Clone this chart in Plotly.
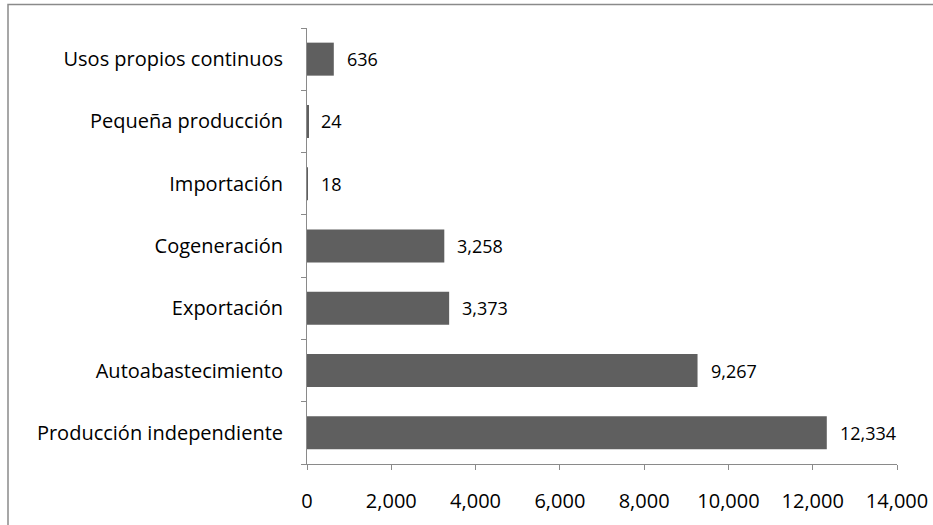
import plotly.graph_objects as go

# Capacity by permit type (bottom-to-top order on the chart)
categories = [
    "Producción independiente",
    "Autoabastecimiento",
    "Exportación",
    "Cogeneración",
    "Importación",
    "Pequeña producción",
    "Usos propios continuos",
]
values = [12334, 9267, 3373, 3258, 18, 24, 636]
x_ticks = [0, 2000, 4000, 6000, 8000, 10000, 12000, 14000]

FONT = "Open Sans"
W, H = 933, 525
L, R, T, B = 307, 36, 28, 61
pw, ph = W - L - R, H - T - B

fig = go.Figure(
    go.Bar(
        x=values,
        y=categories,
        orientation="h",
        marker=dict(color="#5f5f5f", line=dict(width=0)),
        hoverinfo="x+y",
    )
)

# Value labels to the right of each bar
for c, v in zip(categories, values):
    fig.add_annotation(
        x=v, y=c, text=f"{v:,}", showarrow=False,
        xanchor="left", yanchor="middle", xshift=11,
        font=dict(family=FONT, size=18, color="#000000"),
    )

# Outer chart frame
fig.add_shape(
    type="rect", xref="paper", yref="paper",
    x0=(8 - L) / pw, x1=(W + 20 - L) / pw,
    y0=-(H + 20 - (T + ph)) / ph, y1=(T + ph - 4.5) / ph,
    line=dict(color="#8a8a8a", width=1.5), fillcolor="rgba(0,0,0,0)",
    layer="below",
)

fig.update_layout(
    width=W, height=H,
    margin=dict(l=L, r=R, t=T, b=B, autoexpand=False),
    paper_bgcolor="white", plot_bgcolor="white",
    bargap=0.47,
    showlegend=False,
    font=dict(family=FONT, size=16, color="#000000"),
)
fig.update_xaxes(
    range=[0, 14000], tickvals=x_ticks, tickformat=",",
    automargin=False,
    showgrid=False, zeroline=False,
    showline=True, linecolor="#8a8a8a", linewidth=1,
    ticks="outside", ticklen=5, tickcolor="#8a8a8a",
    ticklabelstandoff=14,
    tickfont=dict(family=FONT, size=20, color="#000000"),
)
fig.update_yaxes(
    categoryorder="array", categoryarray=categories,
    automargin=False,
    showgrid=False, zeroline=False,
    showline=True, linecolor="#8a8a8a", linewidth=1,
    ticks="outside", ticklen=5, tickcolor="#8a8a8a",
    tickson="boundaries",
    ticklabelstandoff=19,
    tickfont=dict(family=FONT, size=20, color="#000000"),
)

fig.write_html("out.html")
